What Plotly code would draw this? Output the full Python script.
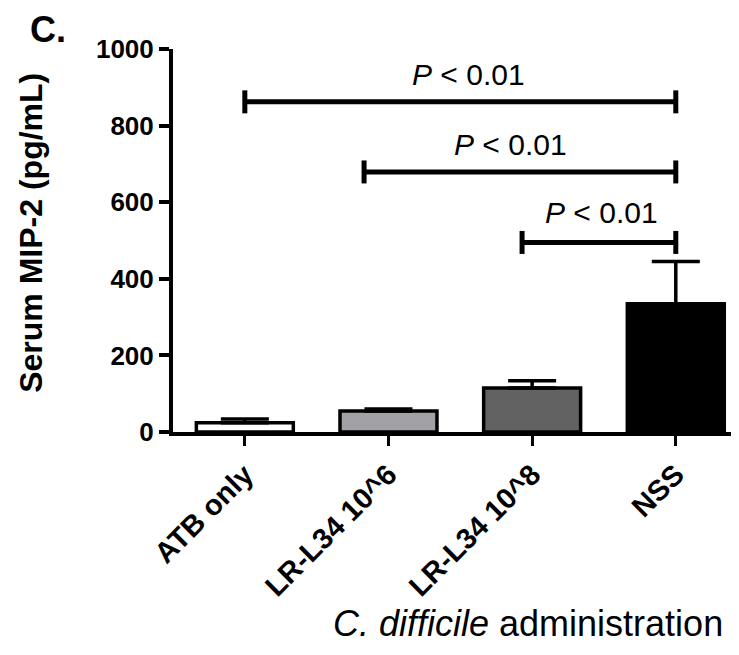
import plotly.graph_objects as go

categories = ["ATB only", "LR-L34 10^6", "LR-L34 10^8", "NSS"]
means = [24, 55, 115, 335]
sem = [10, 5, 19, 110]
bar_colors = ["#ffffff", "#a2a2a6", "#626262", "#000000"]
y_ticks = [0, 200, 400, 600, 800, 1000]

# significance comparisons: (left x, right x, bracket height, label x, label y)
brackets = [(0.0, 3.0, 862, 1.56, 933),
            (0.83, 3.0, 679, 1.85, 750),
            (1.93, 3.0, 495, 2.48, 573)]
p_label = "<i>P</i> < 0.01"

FONT = "Arial, Liberation Sans, sans-serif"
xpos = list(range(len(categories)))

fig = go.Figure()
fig.add_trace(go.Bar(
    x=xpos, y=means, width=0.675,
    marker=dict(color=bar_colors, line=dict(color="black", width=3.5)),
    error_y=dict(type="data", array=sem, symmetric=False, arrayminus=[0]*4,
                 color="black", thickness=3.5, width=24),
    showlegend=False,
))

for (x0, x1, yb, lx, ly) in brackets:
    fig.add_shape(type="line", x0=x0, x1=x1, y0=yb, y1=yb,
                  line=dict(color="black", width=5))
    for xx in (x0, x1):
        fig.add_shape(type="line", x0=xx, x1=xx, y0=yb - 30, y1=yb + 30,
                      line=dict(color="black", width=5))
    fig.add_annotation(x=lx, y=ly, text=p_label, showarrow=False,
                       xanchor="center", yanchor="middle",
                       font=dict(family=FONT, size=30, color="black"))

fig.update_layout(
    width=731, height=647,
    margin=dict(l=165, r=0, t=41, b=223),
    plot_bgcolor="white", paper_bgcolor="white",
    bargap=0.3,
    xaxis=dict(range=[-0.5, 3.44], tickvals=xpos, ticktext=categories,
               tickangle=-45, showline=True, linecolor="black", linewidth=4,
               ticks="outside", ticklen=10, tickwidth=3, tickcolor="black",
               showgrid=False, zeroline=False,
               tickfont=dict(family=FONT, size=29, color="black", weight="bold")),
    yaxis=dict(range=[0, 1000], tickvals=y_ticks, showline=True,
               linecolor="black", linewidth=4, ticks="outside", ticklen=10,
               tickwidth=4, tickcolor="black", showgrid=False, zeroline=False,
               tickfont=dict(family=FONT, size=26, color="black", weight="bold")),
)

fig.add_annotation(xref="paper", yref="paper", x=-0.251, y=0.52,
                   text="<b>Serum MIP-2 (pg/mL)</b>", textangle=-90,
                   showarrow=False, xanchor="center", yanchor="middle",
                   font=dict(family=FONT, size=32, color="black"))
fig.add_annotation(xref="paper", yref="paper", x=-0.256, y=1.052,
                   text="<b>C.</b>", showarrow=False,
                   xanchor="left", yanchor="middle",
                   font=dict(family=FONT, size=36, color="black"))
fig.add_annotation(xref="paper", yref="paper", x=0.28, y=-0.50,
                   text="<i>C. difficile</i> administration", showarrow=False,
                   xanchor="left", yanchor="middle",
                   font=dict(family=FONT, size=36, color="black"))

fig.write_html("out.html")
